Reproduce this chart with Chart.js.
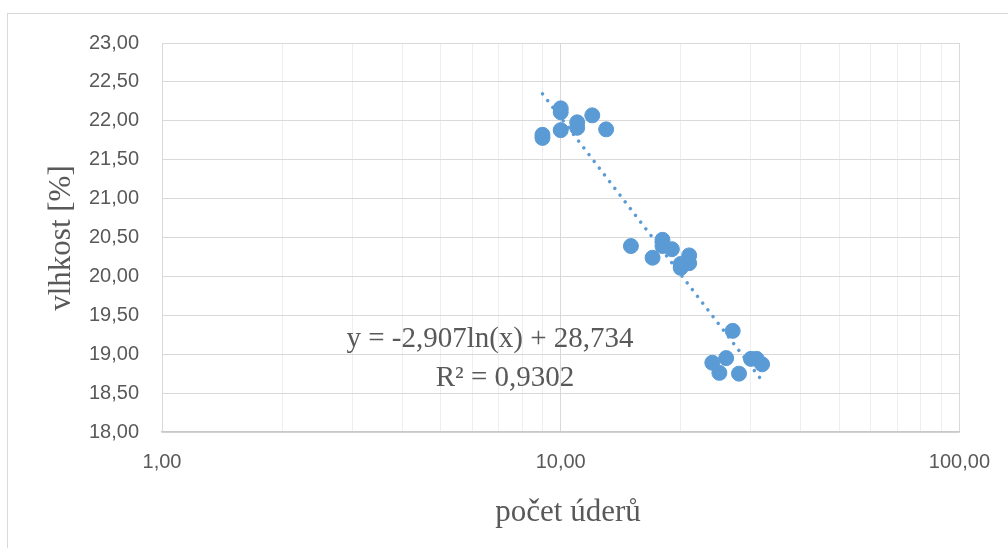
<!DOCTYPE html>
<html>
<head>
<meta charset="utf-8">
<script src="https://cdn.jsdelivr.net/npm/chart.js@4.4.1/dist/chart.umd.min.js"></script>
<title>vlhkost</title>
<style>
  body { margin: 0; background: #fff; }
  #wrap { position: relative; width: 1008px; height: 548px; }
</style>
</head>
<body>
<div id="wrap"><canvas id="graf"></canvas></div>
<script>
// počet úderů a vlhkost
const uderyX = [9, 9, 10, 10, 10, 11, 11, 12, 13, 15, 17, 18, 18, 19, 20, 20, 21, 21, 24, 25, 26, 27, 28, 30, 31, 32];
const vlhkostY = [21.82, 21.78, 22.16, 22.11, 21.88, 21.98, 21.91, 22.07, 21.89, 20.39, 20.24, 20.47, 20.39, 20.35, 20.16, 20.11, 20.27, 20.17, 18.89, 18.76, 18.95, 19.30, 18.75, 18.94, 18.94, 18.87];

// logaritmický trend y = a*ln(x) + b
const trendA = -2.907;
const trendB = 28.734;
const trendR2 = 0.9302;

const xTicks = [1, 2, 3, 4, 5, 6, 7, 8, 9, 10, 20, 30, 40, 50, 60, 70, 80, 90, 100];
const xLabels = [1, 10, 100];

const fmt = v => v.toFixed(2).replace('.', ',');
const body = uderyX.map((x, i) => ({ x: x, y: vlhkostY[i] }));
const xMin = Math.min(...uderyX), xMax = Math.max(...uderyX);
const trend = [xMin, xMax].map(x => ({ x: x, y: trendA * Math.log(x) + trendB }));

const texty = {
  id: 'texty',
  beforeDraw(chart) {
    const c = chart.ctx;
    c.save();
    c.strokeStyle = '#d9d9d9';
    c.lineWidth = 1;
    c.strokeRect(7.5, 13.5, 1010, 560);
    c.restore();
  },
  afterDraw(chart) {
    const c = chart.ctx;
    c.save();
    c.fillStyle = '#595959';
    c.font = '31px "Liberation Serif"';
    c.textAlign = 'center';
    c.textBaseline = 'middle';
    c.fillText('počet úderů', 568, 513);
    c.save();
    c.translate(62, 238);
    c.rotate(-Math.PI / 2);
    c.fillText('vlhkost [%]', 0, 0);
    c.restore();
    c.font = '29px "Liberation Serif"';
    c.textBaseline = 'alphabetic';
    const a = trendA.toFixed(3).replace('.', ',');
    const b = trendB.toFixed(3).replace('.', ',');
    c.fillText('y = ' + a + 'ln(x) + ' + b, 490, 347);
    c.fillText('R² = ' + trendR2.toFixed(4).replace('.', ','), 505, 386);
    c.restore();
  }
};

new Chart(document.getElementById('graf'), {
  type: 'scatter',
  data: {
    datasets: [
      {
        label: 'vlhkost',
        data: body,
        backgroundColor: '#5b9bd5',
        borderColor: '#5b9bd5',
        pointRadius: 7.5,
        pointHoverRadius: 7.5,
        order: 2
      },
      {
        label: 'trend',
        data: trend,
        showLine: true,
        borderColor: '#5b9bd5',
        borderWidth: 3.5,
        borderDash: [0.1, 8.4],
        borderCapStyle: 'round',
        pointRadius: 0,
        fill: false,
        order: 1
      }
    ]
  },
  options: {
    responsive: true,
    maintainAspectRatio: false,
    animation: false,
    layout: { padding: { left: 0, right: 43, top: 43, bottom: 0 } },
    plugins: { legend: { display: false }, tooltip: { enabled: false } },
    scales: {
      x: {
        type: 'logarithmic',
        min: 1,
        max: 100,
        afterBuildTicks: s => { s.ticks = xTicks.map(v => ({ value: v })); },
        afterFit: s => { s.height = 116; },
        grid: {
          drawTicks: false,
          color: ctx => xLabels.includes(ctx.tick && ctx.tick.value) ? '#d9d9d9' : '#eeeeee'
        },
        border: { color: '#c9c9c9', width: 1.5 },
        ticks: {
          autoSkip: false,
          maxRotation: 0,
          padding: 18,
          color: '#595959',
          font: { family: 'Liberation Sans', size: 20 },
          callback: v => xLabels.includes(v) ? fmt(v) : ''
        }
      },
      y: {
        min: 18,
        max: 23,
        afterFit: s => { s.width = 162; },
        grid: { drawTicks: false, color: '#d9d9d9' },
        border: { display: false },
        ticks: {
          stepSize: 0.5,
          padding: 23,
          color: '#595959',
          font: { family: 'Liberation Sans', size: 20 },
          callback: v => fmt(v)
        }
      }
    }
  },
  plugins: [texty]
});
</script>
</body>
</html>
